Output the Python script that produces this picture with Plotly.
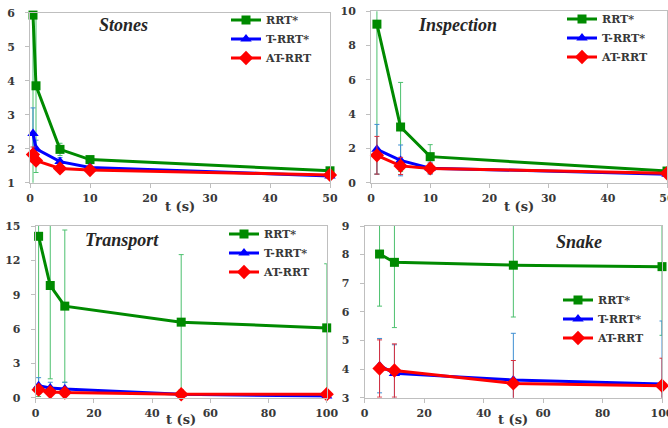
import plotly.graph_objects as go

# ---------------- data ----------------
series_names = ["RRT*", "T-RRT*", "AT-RRT"]

stones_t = [0.5, 1, 5, 10, 50]
stones_rrt = [5.93, 3.85, 1.98, 1.68, 1.35]
stones_rrt_err = [5.5, 2.55, 0.18, 0.08, 0.05]
stones_trrt = [2.45, 2.0, 1.62, 1.45, 1.2]
stones_trrt_err = [0.75, 0.25, 0.12, 0.07, 0.05]
stones_atrrt = [1.83, 1.65, 1.42, 1.37, 1.23]
stones_atrrt_err = [0.22, 0.12, 0.06, 0.05, 0.04]

insp_t = [1, 5, 10, 50]
insp_rrt = [9.25, 3.25, 1.52, 0.68]
insp_rrt_err = [8.75, 2.6, 0.7, 0.1]
insp_trrt = [1.95, 1.3, 0.85, 0.5]
insp_trrt_err = [1.45, 0.9, 0.35, 0.1]
insp_atrrt = [1.6, 0.98, 0.83, 0.55]
insp_atrrt_err = [1.1, 0.5, 0.3, 0.08]

trans_t = [1, 5, 10, 50, 100]
trans_rrt = [14.1, 9.8, 8.0, 6.6, 6.1]
trans_rrt_err = [14.0, 8.15, 6.65, 5.9, 5.6]
trans_trrt = [1.05, 0.85, 0.75, 0.3, 0.15]
trans_trrt_err = [0.7, 0.5, 0.6, 0.2, 0.1]
trans_atrrt = [0.7, 0.5, 0.45, 0.3, 0.3]
trans_atrrt_err = [0.3, 0.25, 0.2, 0.1, 0.1]

snake_t = [5, 10, 50, 100]
snake_rrt = [8.02, 7.73, 7.63, 7.58]
snake_rrt_err = [1.82, 2.28, 1.81, 2.4]
snake_trrt = [4.12, 3.85, 3.62, 3.48]
snake_trrt_err = [0.95, 1.0, 1.63, 2.2]
snake_atrrt = [4.02, 3.95, 3.5, 3.42]
snake_atrrt_err = [1.0, 0.93, 0.8, 0.96]

panel_titles = ["Stones", "Inspection", "Transport", "Snake"]
x_title = "t (s)"

# ---------------- styles ----------------
line_colors = ["#008a00", "#0000ff", "#ff0000"]
err_colors = ["#4cc06e", "#3f8fd2", "#d8303f"]
symbols = ["square", "triangle-up", "diamond"]
msizes = [9, 10, 11]
TICKFONT = dict(family="DejaVu Serif", size=11, color="#383838", weight="bold")
LEGFONT = dict(family="DejaVu Serif", size=11, color="#383838", weight="bold")

panels = [
    (stones_t, [(stones_rrt, stones_rrt_err), (stones_trrt, stones_trrt_err), (stones_atrrt, stones_atrrt_err)]),
    (insp_t, [(insp_rrt, insp_rrt_err), (insp_trrt, insp_trrt_err), (insp_atrrt, insp_atrrt_err)]),
    (trans_t, [(trans_rrt, trans_rrt_err), (trans_trrt, trans_trrt_err), (trans_atrrt, trans_atrrt_err)]),
    (snake_t, [(snake_rrt, snake_rrt_err), (snake_trrt, snake_trrt_err), (snake_atrrt, snake_atrrt_err)]),
]

fig = go.Figure()
for p, (tx, sers) in enumerate(panels):
    ax = "" if p == 0 else str(p + 1)
    leg = "legend" if p == 0 else f"legend{p + 1}"
    for s, (vals, errs) in enumerate(sers):
        fig.add_trace(go.Scatter(
            x=tx, y=vals, name=series_names[s], mode="lines+markers",
            xaxis="x" + ax, yaxis="y" + ax, legend=leg,
            line=dict(color=line_colors[s], width=3),
            marker=dict(symbol=symbols[s], size=msizes[s], color=line_colors[s]),
            error_y=dict(type="data", array=errs, color=err_colors[s], thickness=1, width=2.5),
            cliponaxis=False,
        ))

W, H = 668, 428
x_domains = [[30 / W, 330 / W], [371 / W, 667 / W], [35.7 / W, 326.7 / W], [364.7 / W, 662 / W]]
y_domains = [[1 - 182.7 / H, 1 - 12.7 / H], [1 - 182.7 / H, 1 - 11.3 / H],
             [1 - 397.7 / H, 1 - 226 / H], [1 - 397.7 / H, 1 - 226 / H]]
x_ranges = [[0, 50], [0, 50], [0, 100], [0, 100]]
x_dticks = [10, 10, 20, 20]
y_ranges = [[1, 6], [0, 10], [0, 15], [3, 9]]
y_dticks = [1, 2, 3, 1]

axis_common = dict(showgrid=False, zeroline=False, showline=True, linecolor="#bfbfbf",
                   linewidth=1, mirror=True, ticks="outside", ticklen=4, tickcolor="#bfbfbf",
                   tickfont=TICKFONT, fixedrange=True, automargin=False,
                   ticklabeloverflow="allow")

layout = dict(width=W, height=H, margin=dict(l=0, r=0, t=0, b=0, autoexpand=False),
              paper_bgcolor="white", plot_bgcolor="white", showlegend=True)
for p in range(4):
    ax = "" if p == 0 else str(p + 1)
    layout["xaxis" + ax] = dict(domain=x_domains[p], range=x_ranges[p], dtick=x_dticks[p],
                                anchor="y" + ax, ticklabelstandoff=1, **axis_common)
    layout["yaxis" + ax] = dict(domain=y_domains[p], range=y_ranges[p], dtick=y_dticks[p],
                                anchor="x" + ax, ticklabelstandoff=8, **axis_common)

legend_pos = [(226, 39), (562, 38), (224, 253), (558, 319)]
for p, (lx, ly) in enumerate(legend_pos):
    key = "legend" if p == 0 else f"legend{p + 1}"
    layout[key] = dict(x=lx / W, y=1 - ly / H, xanchor="left", yanchor="middle",
                       bgcolor="rgba(0,0,0,0)", font=LEGFONT, tracegroupgap=0,
                       itemclick=False, itemdoubleclick=False)

fig.update_layout(**layout)

title_pos = [(123, 25), (457, 25), (122, 240), (579, 242)]
for p, (tx_, ty_) in enumerate(title_pos):
    fig.add_annotation(text=panel_titles[p], x=tx_ / W, y=1 - ty_ / H, xref="paper", yref="paper",
                       showarrow=False, xanchor="center", yanchor="middle",
                       font=dict(family="Liberation Serif", size=18, color="#262626",
                                 weight="bold", style="italic"))

for p in range(4):
    ax = "" if p == 0 else str(p + 1)
    shift = -24 if p < 2 else -22
    fig.add_annotation(text=x_title, x=0.5, y=0, xref=("x" + ax + " domain"), yref=("y" + ax + " domain"),
                       showarrow=False, xanchor="center", yanchor="middle", yshift=shift,
                       font=dict(family="DejaVu Serif", size=13, color="#383838", weight="bold"))

page_fix = (
    "document.documentElement.style.margin='0';"
    "document.documentElement.style.overflow='hidden';"
    "document.body.style.margin='0';"
    "document.body.style.overflow='hidden';"
)
fig.write_html("out.html", post_script=page_fix,
               config={"displayModeBar": False, "responsive": False})
